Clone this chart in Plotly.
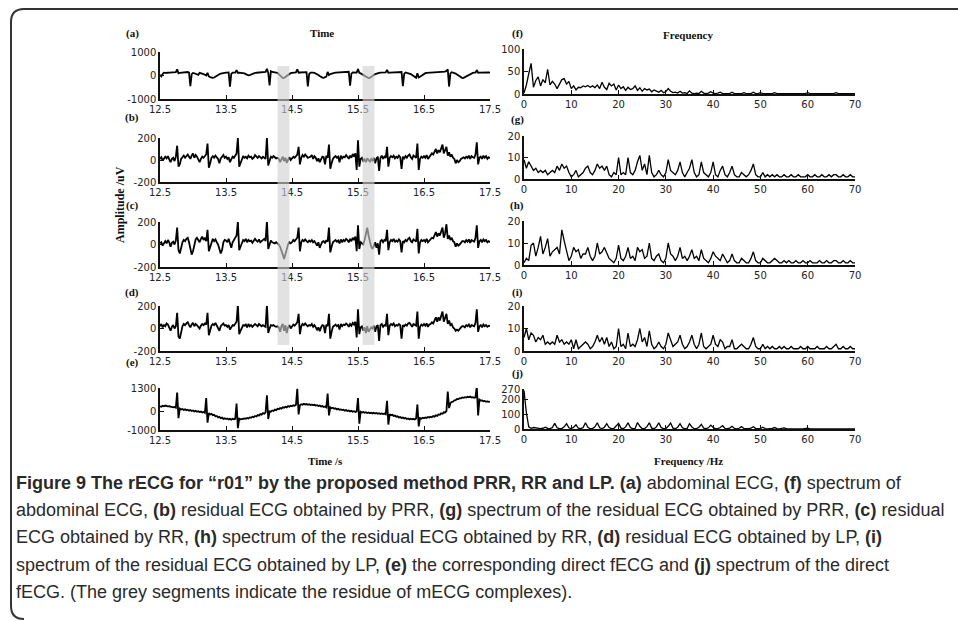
import plotly.graph_objects as go

W, H = 958, 621          # page size in pixels

# ---------------- data ----------------
T_START, T_STEP = 12.5, 0.02      # time traces sampled every 20 ms
F_STEP = 0.5                      # spectra sampled every 0.5 Hz

abdominal_ecg = [
    30, -40, 60, 120, 110, 125, 118, 122, 130, 115,
    120, 128, 140, 260, 90, 115, 120, 110, 118, 125,
    130, 150, 120, -450, 60, 110, 95, 80, 60, 30,
    110, 100, 85, 60, 30, 0, 110, -40, -70, -90,
    -100, -85, -60, -30, 10, 50, 80, 100, 110, 115,
    120, 125, 130, -470, 70, 120, 115, 125, 230, 110,
    120, 118, 125, 110, 90, 60, 30, 10, 20, 50,
    80, 100, 115, 118, 120, 125, 122, 128, 130, 135,
    150, 280, 120, -420, 180, 150, 130, 125, 120, 110,
    60, 0, -60, -110, -100, -60, -10, 40, 80, 100,
    115, 120, 125, 130, 260, 120, 128, 135, 130, 140,
    150, 140, -460, 60, 120, 130, 125, 110, 90, 60,
    20, -20, -60, -90, -100, -85, -50, 150, 20, 60,
    90, 110, 115, 120, 125, 130, 128, 132, 135, 140,
    135, 145, 150, 160, -430, 80, 130, 125, 120, 125,
    270, 110, 90, 60, 20, -20, -60, -90, -110, -100,
    -70, -30, 20, 60, 90, 110, 115, 120, 125, 118,
    122, 130, 240, 120, 125, 128, 130, 126, 132, 135,
    130, 140, 145, 150, -450, 70, 130, 120, 110, 90,
    60, 20, -30, -70, -100, 100, -80, -50, -10, 40,
    80, 100, 115, 120, 125, 120, 128, 130, 125, 130,
    135, 140, 138, 145, 150, 155, 165, 200, 260, -470,
    90, 140, 130, 110, 80, 40, 0, -50, -90, -110,
    -100, -70, -30, 10, 50, 80, 100, 110, 120, 125,
    230, 120, 125, 130, 128, 135, 140, 132, 138, 130, 125,
]

residual_prr = [
    10, 25, -5, 20, 30, 15, 35, 5, -20, 10,
    20, -10, 30, 130, -60, -40, 10, 25, 40, 20,
    35, 50, 30, 10, 40, 60, 20, 45, 30, 0,
    -20, 10, 30, 20, 40, 50, 150, -70, -30, 20,
    35, 20, 40, 25, 10, -30, 15, 30, 45, 20,
    30, 10, 25, -20, 5, 30, 20, 40, 60, 200,
    -60, -30, 10, 35, 20, 30, 15, 40, 25, 30,
    10, 20, 45, 30, 20, 35, 25, 15, 30, 20,
    10, 200, -50, -10, 30, 20, 35, 25, 15, 20,
    10, -20, 15, 30, -10, 20, -25, 10, 25, 0,
    15, 30, 20, 40, 50, 120, -40, 20, 45, 30,
    50, 35, 20, 25, 30, 45, 10, 35, 20, -10,
    15, -20, 10, 30, 25, -40, 40, 20, 140, -80,
    -30, 10, 25, 35, 20, 30, -20, 40, 15, 30,
    25, 45, 30, 10, 40, 20, 55, 30, 60, -90,
    180, -60, 10, 20, -10, 5, -20, 15, 0, -15,
    10, -5, 20, -30, 15, 30, -100, 20, 40, 10,
    30, 20, 120, -60, 20, 35, 25, 40, 15, 30,
    20, 40, 25, -80, 30, 15, 35, 20, 40, 50,
    25, 10, 40, 30, 20, 150, -90, 10, 30, 20,
    35, 20, 45, 10, 30, 40, 60, 50, 80, 100,
    60, 90, 70, 110, 140, 60, 90, 120, 40, 70,
    30, 50, 20, 10, -30, 0, -20, -10, 10, 20,
    25, 15, 30, 20, 40, 10, 35, 25, 20, 50,
    160, -40, 20, 30, 10, 40, 20, 35, 10, 25, 15,
]

residual_rr = [
    10, 20, -10, 15, 30, 10, 40, 20, -20, 15,
    25, 0, 35, 150, -50, -80, -20, 20, 40, 30,
    50, 60, 20, -40, -90, -60, 10, 45, 60, 40,
    20, 50, 70, 40, 60, 30, 130, -60, -20, 30,
    50, 30, 45, 20, 0, -40, -80, -50, 20, 40,
    35, 20, 50, 10, -30, 20, 40, 60, 80, 200,
    -50, -20, 20, 40, 30, 50, 20, 40, 30, 35,
    15, 30, 50, 35, 25, 45, 20, 30, 40, 50,
    30, 210, -40, 0, 35, 20, 15, 10, 20, 10,
    0, -20, -50, -90, -130, -80, -30, 0, 20, 10,
    20, 40, 30, 45, 60, 150, -60, 20, 40, 30,
    45, 30, 20, 35, 25, 40, 20, 30, 10, -10,
    20, -30, 0, 25, 30, 10, 40, 25, 150, -70,
    -20, 20, 30, 40, 25, 35, 10, 45, 20, 40,
    30, 50, 40, 20, 45, 30, 60, 40, 70, -60,
    170, -40, 20, 10, 0, 40, 90, 150, 80, 20,
    -20, -40, 0, 20, -30, 10, -90, 30, 40, 20,
    40, 30, 130, -50, 20, 40, 30, 50, 20, 35,
    25, 45, 30, -70, 30, 20, 40, 30, 50, 60,
    30, 20, 45, 35, 25, 140, -80, 20, 40, 30,
    40, 25, 50, 20, 35, 45, 60, 55, 90, 110,
    70, 100, 80, 120, 150, 60, 100, 180, 50, 80,
    40, 60, 30, 20, -20, 10, -10, 0, 20, 30,
    30, 20, 40, 25, 45, 15, 40, 30, 25, 60,
    170, -30, 30, 40, 20, 45, 30, 40, 20, 30, 20,
]

residual_lp = [
    20, 40, 10, 30, 20, 45, 35, 10, -20, 15,
    30, 0, 20, 140, -70, -90, -30, 20, 40, 30,
    45, 55, 30, 10, 35, 50, 20, 40, 30, 10,
    0, 25, 40, 30, 45, 35, 140, -60, -20, 25,
    40, 30, 50, 25, 15, -20, 20, 35, 45, 25,
    30, 15, 30, -10, 10, 30, 25, 45, 60, 210,
    -50, -20, 15, 30, 25, 35, 10, 40, 20, 30,
    15, 25, 40, 30, 20, 40, 30, 20, 30, 25,
    15, 210, -40, 0, 30, 25, 30, 20, 15, 20,
    10, -30, 20, 40, -20, 30, -40, 10, 30, 0,
    20, 35, 25, 40, 55, 130, -50, 20, 40, 30,
    45, 30, 20, 30, 25, 40, 15, 30, 15, -10,
    10, -25, 10, 30, 25, -40, 35, 20, 130, -90,
    -30, 15, 25, 35, 20, 30, -10, 40, 20, 35,
    30, 45, 35, 15, 40, 25, 50, 35, 60, -80,
    170, -50, 10, 20, -20, 10, -40, 20, -30, -10,
    10, 0, 25, -30, 20, 30, -110, 30, 40, 15,
    30, 25, 130, -60, 25, 40, 30, 45, 20, 30,
    25, 40, 30, -90, 30, 20, 35, 25, 45, 50,
    30, 15, 40, 30, 25, 150, -90, 15, 35, 25,
    40, 25, 45, 15, 35, 40, 55, 45, 80, 100,
    60, 100, 70, 110, 150, 60, 90, 130, 40, 70,
    30, 40, 10, 0, -20, -10, -20, 0, 10, 20,
    20, 10, 30, 20, 35, 10, 30, 25, 20, 50,
    170, -30, 20, 30, 10, 35, 20, 30, 15, 25, 20,
]

direct_fecg = [
    300, 270, 330, 300, 340, 310, 290, 300, 270, 280,
    240, 260, 220, 1050, -350, 170, 120, 150, 100, 130,
    80, 110, 60, 90, 40, 70, 20, 50, 0, 30,
    -20, 10, -40, -10, -60, 750, -600, -80, -150, -120,
    -190, -170, -250, -230, -310, -280, -350, -320, -390, -360,
    -400, -370, -420, -390, -430, -380, -410, -390, 450, -900,
    -380, -420, -390, -400, -370, -390, -340, -370, -310, -330,
    -270, -300, -230, -260, -180, -210, -130, -160, -80, -110,
    -30, 900, -400, 20, 0, 70, 40, 120, 90, 160,
    140, 200, 170, 240, 220, 270, 240, 310, 280, 330,
    300, 350, 330, 380, 1250, -150, 360, 410, 380, 430,
    390, 420, 380, 410, 370, 390, 360, 380, 340, 360,
    310, 340, 290, 310, 260, 290, 240, 1000, -200, 240,
    190, 220, 160, 190, 130, 160, 110, 130, 90, 110,
    60, 90, 40, 70, 20, 50, 0, 30, -10, 20,
    750, -650, 0, -40, -10, -60, -30, -70, -40, -80,
    -50, -90, -60, -100, -70, -110, -80, -120, -90, -130,
    -100, -140, 600, -700, -130, -190, -170, -230, -210, -270,
    -250, -310, -290, -340, -320, -370, -340, -400, -370, -420,
    -380, -410, -390, -420, -370, 400, -800, -350, -380, -330,
    -360, -310, -340, -290, -320, -270, -300, -240, -270, -200,
    -230, -150, -170, -90, -110, -30, -40, 40, 1100, 200,
    470, 540, 550, 620, 630, 700, 690, 740, 730, 780,
    760, 800, 780, 820, 790, 830, 780, 800, 760, 790,
    1400, -200, 660, 610, 620, 570, 590, 550, 570, 540, 560,
]

spec_abdominal = [
    2, 20, 45, 68, 15, 30, 38, 18, 32, 25,
    55, 20, 28, 22, 12, 24, 32, 34, 22, 28,
    12, 18, 9, 15, 14, 18, 16, 19, 15, 18,
    14, 20, 12, 26, 15, 10, 24, 18, 22, 9,
    20, 12, 16, 8, 15, 10, 12, 18, 8, 14,
    6, 12, 9, 11, 5, 9, 7, 4, 8, 3,
    5, 12, 6, 3, 4, 2, 6, 2, 3, 1,
    7, 2, 1, 2, 1, 6, 2, 1, 2, 5,
    2, 1, 2, 4, 1, 1, 1, 1, 4, 1,
    1, 1, 1, 3, 1, 1, 1, 4, 1, 1,
    3, 1, 1, 1, 1, 1, 3, 1, 1, 1,
    1, 1, 1, 1, 1, 1, 1, 1, 1, 1,
    3, 1, 1, 1, 1, 1, 1, 1, 1, 1,
    1, 1, 3, 1, 1, 1, 1, 1, 1, 1,
    1,
]

spec_prr = [
    9, 5, 8, 6, 4, 5, 3, 4, 3, 4,
    2, 3, 4, 3, 6, 4, 7, 5, 6, 3,
    1, 2, 4, 1, 2, 3, 5, 6, 3, 2,
    4, 7, 5, 6, 4, 6, 2, 1, 3, 2,
    10, 2, 3, 2, 10, 3, 2, 4, 8, 11,
    4, 7, 2, 11, 3, 1, 2, 4, 2, 1,
    3, 9, 4, 3, 2, 4, 8, 3, 1, 3,
    5, 9, 3, 1, 2, 8, 3, 2, 1, 3,
    8, 2, 1, 4, 6, 2, 1, 3, 6, 2,
    1, 1, 3, 2, 1, 2, 4, 7, 2, 1,
    1, 3, 1, 2, 1, 2, 1, 2, 1, 1,
    2, 1, 1, 2, 1, 1, 2, 1, 1, 1,
    2, 1, 1, 2, 1, 1, 2, 1, 1, 2,
    1, 2, 2, 1, 1, 2, 1, 1, 2, 1,
    1,
]

spec_rr = [
    1, 3, 2, 9, 10, 4, 8, 13, 5, 8,
    12, 4, 6, 7, 8, 5, 16, 11, 6, 2,
    4, 8, 6, 7, 3, 5, 5, 8, 4, 2,
    4, 10, 5, 6, 8, 5, 3, 2, 1, 3,
    9, 3, 2, 4, 8, 3, 4, 2, 8, 6,
    7, 3, 4, 10, 3, 2, 4, 5, 2, 1,
    3, 10, 5, 4, 2, 4, 8, 3, 4, 2,
    4, 7, 3, 4, 2, 7, 3, 2, 1, 3,
    6, 4, 3, 2, 5, 3, 1, 2, 5, 2,
    1, 1, 3, 2, 1, 1, 3, 6, 2, 1,
    1, 3, 2, 1, 1, 2, 3, 2, 1, 1,
    2, 1, 2, 1, 1, 2, 1, 1, 2, 1,
    1, 2, 1, 1, 1, 2, 1, 1, 2, 1,
    1, 2, 2, 1, 1, 2, 1, 1, 2, 1,
    1,
]

spec_lp = [
    6, 10, 5, 8, 7, 4, 6, 5, 7, 3,
    4, 3, 4, 3, 7, 4, 5, 3, 4, 3,
    5, 1, 5, 1, 2, 3, 4, 3, 1, 2,
    4, 7, 4, 6, 3, 6, 2, 4, 1, 2,
    10, 2, 3, 1, 8, 2, 3, 2, 5, 10,
    4, 6, 2, 9, 3, 1, 2, 4, 2, 1,
    3, 8, 5, 2, 3, 4, 7, 3, 1, 2,
    4, 7, 3, 1, 3, 8, 2, 1, 2, 3,
    7, 3, 2, 5, 4, 1, 2, 2, 5, 1,
    1, 2, 3, 2, 1, 1, 3, 6, 2, 1,
    1, 3, 1, 2, 1, 2, 1, 1, 2, 1,
    2, 1, 1, 2, 1, 1, 1, 2, 1, 1,
    2, 1, 1, 1, 2, 1, 1, 1, 2, 1,
    1, 2, 3, 1, 1, 2, 1, 1, 2, 1,
    1,
]

spec_direct = [
    260, 110, 15, 5, 10, 6, 5, 3, 5, 12,
    4, 2, 10, 38, 8, 2, 3, 15, 36, 8,
    2, 12, 28, 5, 2, 10, 42, 12, 2, 3,
    15, 42, 8, 2, 12, 36, 10, 2, 3, 18,
    38, 6, 2, 14, 42, 10, 2, 4, 44, 18,
    2, 3, 16, 42, 6, 2, 14, 42, 10, 2,
    3, 18, 40, 6, 2, 12, 36, 8, 2, 4,
    36, 14, 2, 3, 12, 32, 6, 2, 8, 26,
    10, 2, 3, 10, 22, 4, 2, 6, 18, 4,
    1, 5, 16, 4, 1, 2, 6, 15, 3, 1,
    3, 12, 3, 1, 2, 4, 10, 2, 1, 3,
    8, 2, 1, 1, 3, 1, 1, 1, 1, 2,
    6, 1, 1, 1, 1, 1, 1, 1, 1, 1,
    1, 1, 2, 1, 1, 1, 1, 1, 1, 1,
    1,
]

# panel definitions: label, values, y range, y ticks
time_panels = [
    ("(a)", abdominal_ecg, [-1000, 1000], [-1000, 0, 1000]),
    ("(b)", residual_prr, [-200, 200], [-200, 0, 200]),
    ("(c)", residual_rr, [-200, 200], [-200, 0, 200]),
    ("(d)", residual_lp, [-200, 200], [-200, 0, 200]),
    ("(e)", direct_fecg, [-1000, 1300], [-1000, 0, 1300]),
]
freq_panels = [
    ("(f)", spec_abdominal, [0, 100], [0, 50, 100]),
    ("(g)", spec_prr, [0, 20], [0, 10, 20]),
    ("(h)", spec_rr, [0, 20], [0, 10, 20]),
    ("(i)", spec_lp, [0, 20], [0, 10, 20]),
    ("(j)", spec_direct, [0, 270], [0, 100, 200, 270]),
]
time_ticks = [12.5, 13.5, 14.5, 15.5, 16.5, 17.5]
freq_ticks = [0, 10, 20, 30, 40, 50, 60, 70]
# mECG residue intervals (s)
residue_segments = [(14.28, 14.46), (15.57, 15.75)]

# ---------------- layout geometry (page pixels) ----------------
def px(x):
    return x / W

def py(y):
    return 1 - y / H

left_x = (160, 490)
right_x = (524, 855)
left_y = [(52, 99), (138, 182), (222, 267), (306, 351), (388, 430)]
right_y = [(49, 94), (136, 179), (221, 265), (306, 351), (389, 429)]
label_y_left = [33, 118, 205, 292, 362]
label_y_right = [33, 120, 205, 292, 373]

fig = go.Figure()
layout = {}
annotations = []

tick_font = dict(family="DejaVu Sans", size=10, color="#222")
serif_bold = dict(family="Liberation Serif", size=11, color="#111")


def axis_style(rng, ticks, domain, anchor):
    return dict(
        range=rng, domain=domain, anchor=anchor, automargin=False,
        tickmode="array", tickvals=ticks, ticktext=[str(t) for t in ticks],
        showline=True, linecolor="#111", linewidth=1.5, mirror=False,
        ticks="inside", ticklen=4, tickwidth=1.2, tickcolor="#111",
        showgrid=False, zeroline=False, tickfont=tick_font, fixedrange=True,
    )


n = 0
for col, panels in enumerate([time_panels, freq_panels]):
    for row, (lab, vals, yr, yt) in enumerate(panels):
        n += 1
        xa = "x" if n == 1 else f"x{n}"
        ya = "y" if n == 1 else f"y{n}"
        if col == 0:
            xs = [T_START + T_STEP * i for i in range(len(vals))]
            xr, xt, xd, yd = [12.5, 17.5], time_ticks, left_x, left_y[row]
            lw = 1.8
            lab_x, lab_y = 132, label_y_left[row]
        else:
            xs = [F_STEP * i for i in range(len(vals))]
            xr, xt, xd, yd = [0, 70], freq_ticks, right_x, right_y[row]
            lw = 1.3
            lab_x, lab_y = 517, label_y_right[row]
        fig.add_trace(go.Scatter(
            x=xs, y=vals, xaxis=xa, yaxis=ya, mode="lines",
            line=dict(color="#000", width=lw), hoverinfo="skip", showlegend=False,
        ))
        layout["xaxis" if n == 1 else f"xaxis{n}"] = axis_style(
            xr, xt, [px(xd[0]), px(xd[1])], ya)
        layout["yaxis" if n == 1 else f"yaxis{n}"] = axis_style(
            yr, yt, [py(yd[1]), py(yd[0])], xa)
        annotations.append(dict(
            text=f"<b>{lab}</b>", x=px(lab_x), y=py(lab_y), xref="paper", yref="paper",
            showarrow=False, font=serif_bold, xanchor="center", yanchor="middle"))

# column titles and axis titles
for txt, x, y, ang, size in [
    ("Time", 322, 33, 0, 11),
    ("Frequency", 688, 35, 0, 11),
    ("Amplitude /uV", 120, 205, -90, 12),
    ("Time /s", 325, 461, 0, 11),
    ("Frequency /Hz", 688, 461, 0, 11),
]:
    annotations.append(dict(
        text=f"<b>{txt}</b>", x=px(x), y=py(y), xref="paper", yref="paper",
        showarrow=False, font=dict(serif_bold, size=size), textangle=ang,
        xanchor="center", yanchor="middle"))

# caption
caption_lines = [
    "<b>Figure 9 The rECG for “r01” by the proposed method PRR, RR and LP.</b> <b>(a)</b> abdominal ECG, <b>(f)</b> spectrum of",
    "abdominal ECG, <b>(b)</b> residual ECG obtained by PRR, <b>(g)</b> spectrum of the residual ECG obtained by PRR, <b>(c)</b> residual",
    "ECG obtained by RR, <b>(h)</b> spectrum of the residual ECG obtained by RR, <b>(d)</b> residual ECG obtained by LP, <b>(i)</b>",
    "spectrum of the residual ECG obtained by LP, <b>(e)</b> the corresponding direct fECG and <b>(j)</b> spectrum of the direct",
    "fECG. (The grey segments indicate the residue of mECG complexes).",
]
for k, line in enumerate(caption_lines):
    annotations.append(dict(
        text=line, x=px(14), y=py(483 + 27.2 * k), xref="paper", yref="paper",
        showarrow=False, xanchor="left", yanchor="middle",
        font=dict(family="Liberation Sans", size=18, color="#2a2a2a")))

# grey bands marking mECG residue, laid over the first four time panels
shapes = []
for t0, t1 in residue_segments:
    shapes.append(dict(
        type="rect", xref="x", yref="paper", x0=t0, x1=t1, y0=py(345), y1=py(66),
        fillcolor="#d0d0d0", opacity=0.62, line=dict(width=0), layer="above"))

# rounded frame around the figure
shapes.append(dict(
    type="path", xref="paper", yref="paper",
    path=(f"M {px(962)},{py(9)} L {px(24)},{py(9)} Q {px(11)},{py(9)} {px(11)},{py(22)} "
          f"L {px(11)},{py(606)} Q {px(11)},{py(619)} {px(24)},{py(619)}"),
    line=dict(color="#333", width=2)))

fig.update_layout(
    template="none",
    width=W, height=H, margin=dict(l=0, r=0, t=0, b=0, autoexpand=False),
    paper_bgcolor="white", plot_bgcolor="white",
    annotations=annotations, shapes=shapes, **layout,
)

fig.write_html("out.html")
